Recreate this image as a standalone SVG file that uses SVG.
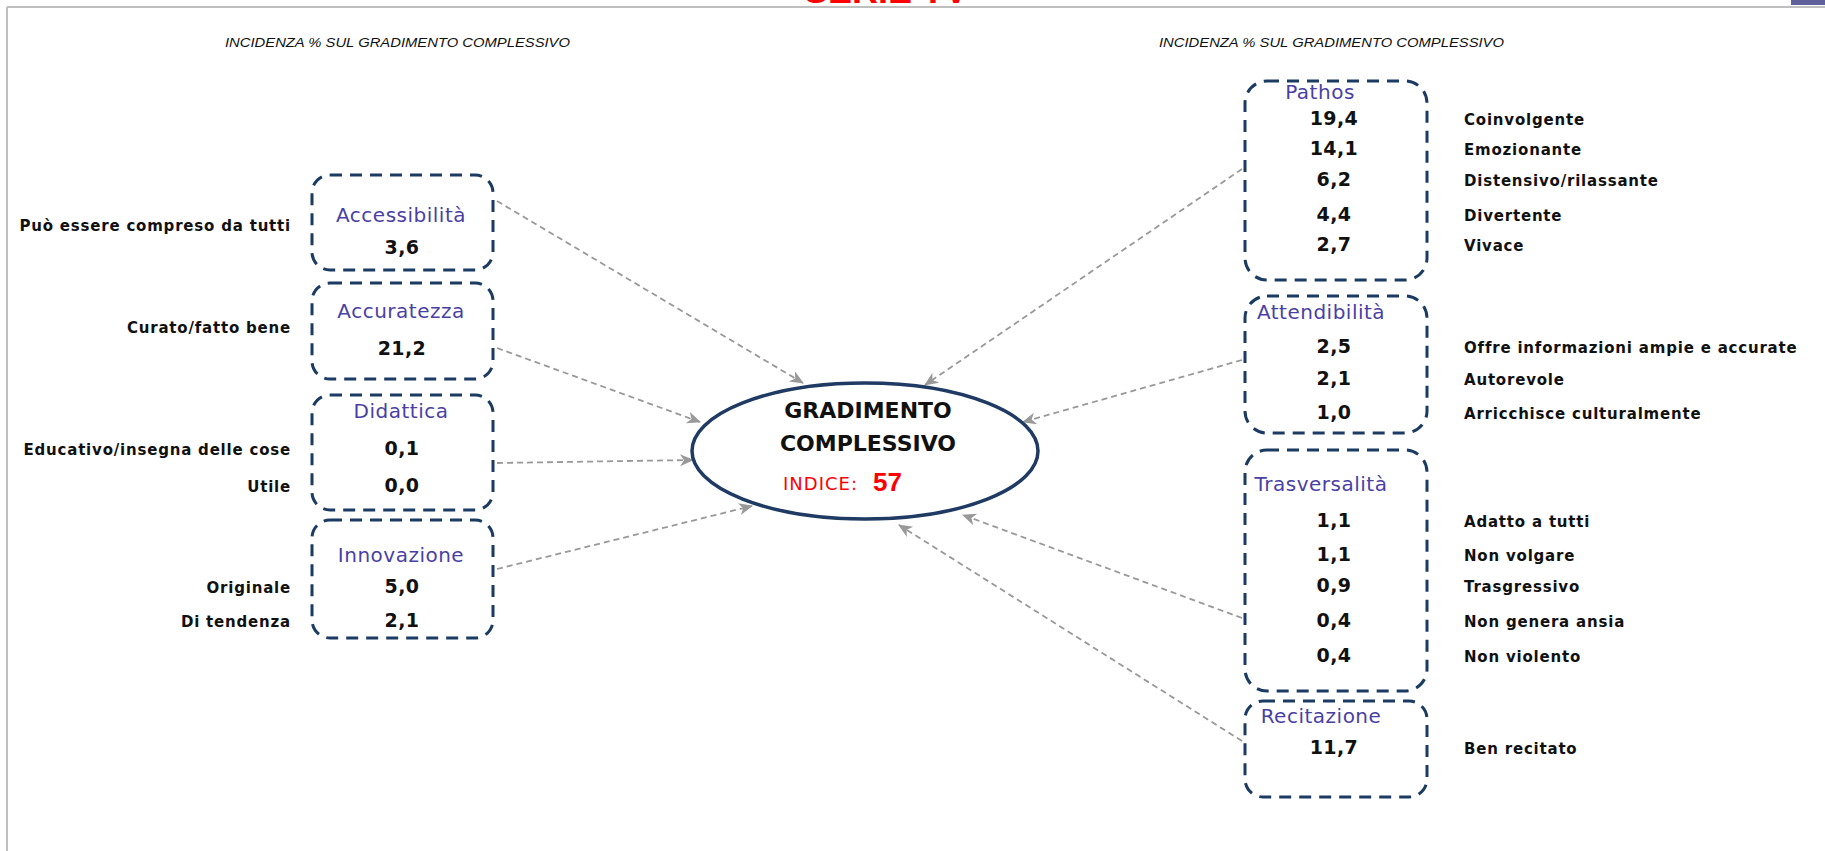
<svg xmlns="http://www.w3.org/2000/svg" width="1825" height="851" viewBox="0 0 1825 851">
<defs>
<marker id="arr" markerUnits="userSpaceOnUse" markerWidth="16" markerHeight="14" refX="13" refY="6" orient="auto">
<path d="M0,0 L14,6 L0,12 L4,6 z" fill="#999999"/>
</marker>
<style>
.box{fill:none;stroke:#1B3B62;stroke-width:3;stroke-dasharray:12 8}
.ttl{font-family:"DejaVu Sans",sans-serif;font-size:20px;letter-spacing:0.5px;fill:#4A3FA5;text-anchor:middle}
.val{font-family:"DejaVu Sans",sans-serif;font-size:19px;letter-spacing:0.4px;font-weight:bold;fill:#111;text-anchor:middle}
.lbl{font-family:"DejaVu Sans",sans-serif;font-size:15px;letter-spacing:0.8px;font-weight:bold;fill:#111}
.hdr{font-family:"Liberation Sans",sans-serif;font-size:12.5px;font-style:italic;fill:#111}
.con{fill:none;stroke:#999999;stroke-width:1.8;stroke-dasharray:6 4;marker-end:url(#arr)}
</style>
</defs>
<rect x="0" y="0" width="1825" height="851" fill="#FFFFFF"/>
<g id="frame">
<line x1="7" y1="7" x2="1825" y2="7" stroke="#BFBFBF" stroke-width="2"/>
<line x1="7" y1="7" x2="7" y2="851" stroke="#BFBFBF" stroke-width="2"/>
<rect x="1791" y="0" width="34" height="5" fill="#5F5F9C"/>
<text x="886" y="3" font-family="Liberation Sans, sans-serif" font-size="36" font-weight="bold" fill="#FF0000" text-anchor="middle">SERIE TV</text>
</g>
<g id="headers">
<text class="hdr" x="225" y="47" textLength="345" lengthAdjust="spacingAndGlyphs">INCIDENZA % SUL GRADIMENTO COMPLESSIVO</text>
<text class="hdr" x="1159" y="47" textLength="345" lengthAdjust="spacingAndGlyphs">INCIDENZA % SUL GRADIMENTO COMPLESSIVO</text>
</g>
<g id="connectors">
<line class="con" x1="497" y1="201" x2="803" y2="383"/>
<line class="con" x1="497" y1="348" x2="700" y2="422"/>
<line class="con" x1="497" y1="463" x2="693" y2="460"/>
<line class="con" x1="497" y1="569" x2="752" y2="506"/>
<line class="con" x1="1242" y1="169" x2="925" y2="385"/>
<line class="con" x1="1242" y1="360" x2="1023" y2="422"/>
<line class="con" x1="1242" y1="618" x2="963" y2="515"/>
<line class="con" x1="1242" y1="741" x2="899" y2="525"/>
</g>
<g id="center">
<ellipse cx="865" cy="451" rx="173" ry="68" fill="#FFFFFF" stroke="#1F3A63" stroke-width="3.5"/>
<text x="868" y="418" font-family="DejaVu Sans, sans-serif" font-size="22" font-weight="bold" fill="#111" text-anchor="middle">GRADIMENTO</text>
<text x="868" y="451" font-family="DejaVu Sans, sans-serif" font-size="22" font-weight="bold" fill="#111" text-anchor="middle">COMPLESSIVO</text>
<text x="783" y="490" font-family="DejaVu Sans, sans-serif" font-size="18" fill="#FF0000" letter-spacing="1">INDICE:</text>
<text x="873" y="491" font-family="Liberation Sans, sans-serif" font-size="26" font-weight="bold" fill="#FF0000">57</text>
</g>
<g id="accessibilita">
<rect class="box" x="312" y="175" width="181" height="95" rx="18"/>
<text class="ttl" x="401" y="222">Accessibilità</text>
<text class="val" x="402" y="254">3,6</text>
<text class="lbl" x="291" y="231" text-anchor="end">Può essere compreso da tutti</text>
</g>
<g id="accuratezza">
<rect class="box" x="312" y="283" width="181" height="96" rx="18"/>
<text class="ttl" x="401" y="318">Accuratezza</text>
<text class="val" x="402" y="355">21,2</text>
<text class="lbl" x="291" y="333" text-anchor="end">Curato/fatto bene</text>
</g>
<g id="didattica">
<rect class="box" x="312" y="395" width="181" height="115" rx="18"/>
<text class="ttl" x="401" y="418">Didattica</text>
<text class="val" x="402" y="455">0,1</text>
<text class="val" x="402" y="492">0,0</text>
<text class="lbl" x="291" y="455" text-anchor="end">Educativo/insegna delle cose</text>
<text class="lbl" x="291" y="492" text-anchor="end">Utile</text>
</g>
<g id="innovazione">
<rect class="box" x="312" y="520" width="181" height="118" rx="18"/>
<text class="ttl" x="401" y="562">Innovazione</text>
<text class="val" x="402" y="593">5,0</text>
<text class="val" x="402" y="627">2,1</text>
<text class="lbl" x="291" y="593" text-anchor="end">Originale</text>
<text class="lbl" x="291" y="627" text-anchor="end">Di tendenza</text>
</g>
<g id="pathos">
<rect class="box" x="1245" y="81" width="182" height="199" rx="22"/>
<text class="ttl" x="1320" y="99">Pathos</text>
<text class="val" x="1334" y="125">19,4</text>
<text class="val" x="1334" y="155">14,1</text>
<text class="val" x="1334" y="186">6,2</text>
<text class="val" x="1334" y="221">4,4</text>
<text class="val" x="1334" y="251">2,7</text>
<text class="lbl" x="1464" y="125">Coinvolgente</text>
<text class="lbl" x="1464" y="155">Emozionante</text>
<text class="lbl" x="1464" y="186">Distensivo/rilassante</text>
<text class="lbl" x="1464" y="221">Divertente</text>
<text class="lbl" x="1464" y="251">Vivace</text>
</g>
<g id="attendibilita">
<rect class="box" x="1245" y="296" width="182" height="137" rx="22"/>
<text class="ttl" x="1321" y="319">Attendibilità</text>
<text class="val" x="1334" y="353">2,5</text>
<text class="val" x="1334" y="385">2,1</text>
<text class="val" x="1334" y="419">1,0</text>
<text class="lbl" x="1464" y="353">Offre informazioni ampie e accurate</text>
<text class="lbl" x="1464" y="385">Autorevole</text>
<text class="lbl" x="1464" y="419">Arricchisce culturalmente</text>
</g>
<g id="trasversalita">
<rect class="box" x="1245" y="450" width="182" height="241" rx="22"/>
<text class="ttl" x="1321" y="491">Trasversalità</text>
<text class="val" x="1334" y="527">1,1</text>
<text class="val" x="1334" y="561">1,1</text>
<text class="val" x="1334" y="592">0,9</text>
<text class="val" x="1334" y="627">0,4</text>
<text class="val" x="1334" y="662">0,4</text>
<text class="lbl" x="1464" y="527">Adatto a tutti</text>
<text class="lbl" x="1464" y="561">Non volgare</text>
<text class="lbl" x="1464" y="592">Trasgressivo</text>
<text class="lbl" x="1464" y="627">Non genera ansia</text>
<text class="lbl" x="1464" y="662">Non violento</text>
</g>
<g id="recitazione">
<rect class="box" x="1245" y="701" width="182" height="96" rx="18"/>
<text class="ttl" x="1321" y="723">Recitazione</text>
<text class="val" x="1334" y="754">11,7</text>
<text class="lbl" x="1464" y="754">Ben recitato</text>
</g>
</svg>
